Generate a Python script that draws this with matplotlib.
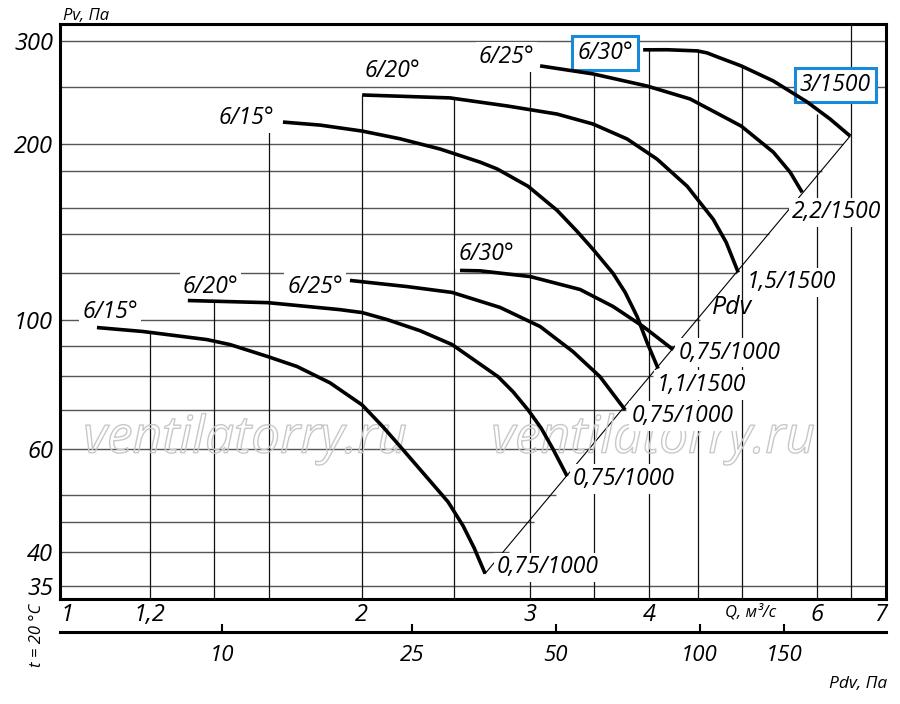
import numpy as np
import matplotlib
matplotlib.use('Agg')
import matplotlib.pyplot as plt
import matplotlib.patheffects as pe
from matplotlib.ticker import NullLocator

plt.rcParams['font.family'] = ['Open Sans', 'DejaVu Sans']
plt.rcParams['font.style'] = 'italic'

K_DYN = 4.9  # dynamic pressure Pdv = K_DYN * Q^2

# upper family (1500 rpm)
q_15_hi = [1.655, 1.810, 2.003, 2.194, 2.417, 2.662, 2.773, 2.988, 3.204, 3.363, 3.495,
           3.667, 3.776, 3.886, 3.981, 4.088]
p_15_hi = [218.0, 215.4, 210.4, 204.1, 196.0, 186.1, 181.2, 169.2, 153.9, 141.6, 131.9,
           120.0, 111.3, 101.2, 91.3, 82.4]
q_20_hi = [2.003, 2.476, 2.841, 3.204, 3.495, 3.794, 4.078, 4.385, 4.669, 4.817, 4.959]
p_20_hi = [242.6, 239.8, 232.3, 225.0, 216.3, 203.9, 188.3, 169.2, 148.5, 135.6, 120.4]
q_25_hi = [3.076, 3.495, 3.981, 4.416, 4.994, 5.396, 5.619, 5.785]
p_25_hi = [272.1, 263.6, 251.3, 238.8, 214.6, 193.6, 178.9, 165.2]
q_30_hi = [3.943, 4.178, 4.492, 4.600, 4.713, 4.994, 5.396, 5.854, 6.188, 6.494]
p_30_hi = [289.9, 290.0, 288.7, 286.4, 282.0, 272.1, 256.4, 236.0, 220.6, 206.3]

# lower family (1000 rpm)
q_15_lo = [1.057, 1.181, 1.378, 1.457, 1.596, 1.712, 1.854, 2.003, 2.106, 2.211, 2.359,
           2.464, 2.555, 2.624, 2.694]
p_15_lo = [96.9, 95.4, 92.4, 90.6, 86.4, 83.1, 77.9, 71.4, 65.5, 59.8, 52.9,
           48.7, 44.3, 40.6, 36.7]
q_20_lo = [1.316, 1.596, 1.898, 2.003, 2.127, 2.303, 2.488, 2.780, 2.882, 2.988, 3.083,
           3.173, 3.283]
p_20_lo = [107.8, 106.9, 104.0, 102.8, 100.0, 95.7, 90.6, 79.8, 75.2, 70.0, 65.2,
           60.0, 53.9]
q_25_lo = [1.945, 2.232, 2.488, 2.793, 3.076, 3.330, 3.554, 3.776]
p_25_lo = [116.7, 113.9, 111.3, 104.9, 97.3, 88.1, 79.8, 70.0]
q_30_lo = [2.536, 2.662, 3.003, 3.387, 3.667, 3.943, 4.239]
p_30_lo = [121.4, 121.2, 118.5, 112.6, 105.3, 97.3, 88.8]

# Pv = Pdv line through the curve ends
diag_q = [2.694, 6.494]
diag_p = [36.7, 206.3]

curves = [(q_15_hi, p_15_hi), (q_20_hi, p_20_hi), (q_25_hi, p_25_hi), (q_30_hi, p_30_hi),
          (q_15_lo, p_15_lo), (q_20_lo, p_20_lo), (q_25_lo, p_25_lo), (q_30_lo, p_30_lo)]

# curve labels: text, Q, P, boxed
labels = [
    ('6/15°', 1.517, 221.5, False),
    ('6/20°', 2.153, 266.8, False),
    ('6/25°', 2.835, 282.0, False),
    ('6/30°', 3.597, 286.4, True),
    ('3/1500', 6.264, 252.5, True),
    ('2,2/1500', 6.28, 152.7, False),
    ('1,5/1500', 5.633, 115.8, False),
    ('1,1/1500', 4.534, 77.3, False),
    ('0,75/1000', 4.852, 87.8, False),
    ('0,75/1000', 4.342, 68.4, False),
    ('0,75/1000', 3.766, 53.3, False),
    ('0,75/1000', 3.136, 37.6, False),
    ('6/15°', 1.091, 103.2, False),
    ('6/20°', 1.391, 113.9, False),
    ('6/25°', 1.788, 113.9, False),
    ('6/30°', 2.70, 129.3, False),
]

grid_p = [35, 40, 45, 50, 60, 70, 80, 90, 100, 120, 140, 155, 180, 200, 250, 300]
grid_q = [1.2, 1.4, 1.6, 2, 2.5, 3, 3.5, 4, 4.5, 5, 6, 6.5]
grid_q_top = [95.4, 107.8, 212, 243, 240, 272, 264, 290, 289, 272, 225, 330]

q_ticks = [1, 1.2, 2, 3, 4, 6, 7]
q_tick_labels = ['1', '1,2', '2', '3', '4', '6', '7']
p_ticks = [35, 40, 60, 100, 200, 300]
pdv_ticks = [10, 25, 50, 100, 150]

QMIN, QMAX = 0.967, 7.08
PMIN, PMAX = 33.2, 321.0

fig = plt.figure(figsize=(9, 7.04), dpi=100)
ax = fig.add_axes([60 / 900, 1 - 599 / 704, 826 / 900, 575 / 704])
ax.set_xscale('log')
ax.set_yscale('log')
ax.set_xlim(QMIN, QMAX)
ax.set_ylim(PMIN, PMAX)

# grid, clipped by the Pdv line and by the curves
for p in grid_p:
    q_end = QMAX * 2 if p == 35 else np.sqrt(p / K_DYN)
    ax.hlines(p, QMIN, q_end, color='#555555', lw=1.0, zorder=1)
for q, top in zip(grid_q, grid_q_top):
    ax.vlines(q, PMIN, top, color='#111111', lw=0.9, zorder=1)

ax.plot(diag_q, diag_p, color='black', lw=0.8, zorder=1.5)

for q, p in curves:
    ax.plot(q, p, color='black', lw=2.6, solid_capstyle='butt', solid_joinstyle='round', zorder=4)

for txt, q, p, boxed in labels:
    if boxed:
        bb = dict(boxstyle='square,pad=0.22', fc='white', ec='#1a8ad8', lw=2.2)
    else:
        bb = dict(boxstyle='square,pad=0.12', fc='white', ec='none')
    ax.text(q, p, txt, fontsize=16.5, ha='center', va='center', bbox=bb, zorder=3)

ax.text(4.887, 104.9, 'Pdv', fontsize=18, ha='center', va='center', zorder=3)

# watermark
for xa in (0.224, 0.718):
    ax.text(xa, 0.278, 'ventilatorry.ru', transform=ax.transAxes, fontsize=37,
            ha='center', va='center', color='none', zorder=2,
            path_effects=[pe.withStroke(linewidth=1.0, foreground='#c8c8c8')])

ax.set_xticks(q_ticks)
ax.set_xticklabels(q_tick_labels)
ax.set_yticks(p_ticks)
ax.set_yticklabels([str(v) for v in p_ticks])
ax.xaxis.set_minor_locator(NullLocator())
ax.yaxis.set_minor_locator(NullLocator())
ax.tick_params(axis='x', length=0, labelsize=17, pad=3)
ax.tick_params(axis='y', length=0, labelsize=17, pad=5)
ax.get_xticklabels()[0].set_horizontalalignment('right')
for s in ax.spines.values():
    s.set_linewidth(2.2)

# dynamic pressure scale
sec = ax.secondary_xaxis(-0.0574, functions=(lambda q: K_DYN * np.asarray(q) ** 2,
                                             lambda p: np.sqrt(np.clip(p, 1e-9, None) / K_DYN)))
sec.set_xticks(pdv_ticks)
sec.set_xticklabels([str(v) for v in pdv_ticks])
sec.xaxis.set_minor_locator(NullLocator())
sec.tick_params(direction='in', length=6, width=1.5, labelsize=16, pad=9)
sec.spines['top'].set_visible(False)
sec.spines['bottom'].set_linewidth(2.2)

fig.text(86 / 900, 1 - 16 / 704, 'Pv, Па', fontsize=12, ha='center', va='center')
fig.text(751 / 900, 1 - 612 / 704, 'Q, м³/с', fontsize=12, ha='center', va='center')
fig.text(858 / 900, 1 - 684 / 704, 'Pdv, Па', fontsize=12.5, ha='center', va='center')
fig.text(37 / 900, 1 - 635 / 704, 't = 20 °C', fontsize=12, ha='center', va='center', rotation=90)

fig.savefig('out.png', dpi=100)
